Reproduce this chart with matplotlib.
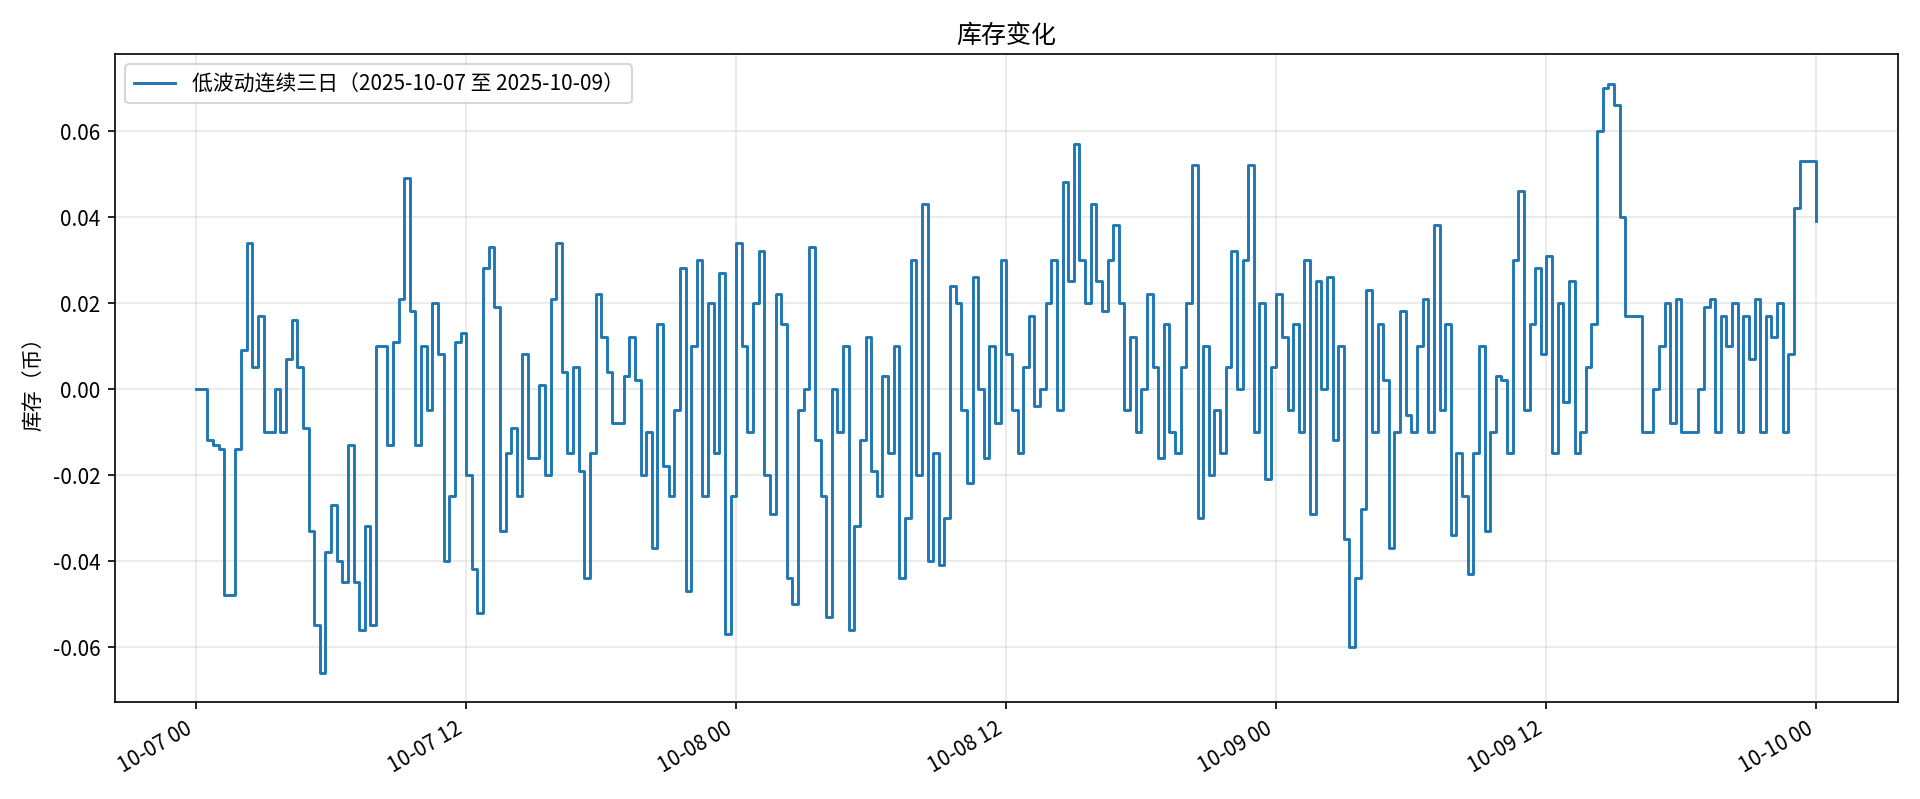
import numpy as np
import pandas as pd
import matplotlib
matplotlib.use("Agg")
import matplotlib.pyplot as plt
import matplotlib.dates as mdates

plt.rcParams['font.family'] = ['Noto Sans CJK SC', 'DejaVu Sans']
plt.rcParams['axes.unicode_minus'] = False

start = "2025-10-07 00:00"
freq_minutes = 15
inventory = [
 0,0,-0.012,-0.013, -0.014,-0.048,-0.048,-0.014, 0.009,0.034,0.005,0.017, -0.010,-0.010,0.000,-0.010,
 0.007,0.016,0.005,-0.009, -0.033,-0.055,-0.066,-0.038, -0.027,-0.040,-0.045,-0.013, -0.045,-0.056,-0.032,-0.055,
 0.010,0.010,-0.013,0.011, 0.021,0.049,0.018,-0.013, 0.010,-0.005,0.020,0.008, -0.040,-0.025,0.011,0.013,
 -0.020,-0.042,-0.052,0.028, 0.033,0.019,-0.033,-0.015, -0.009,-0.025,0.008,-0.016, -0.016,0.001,-0.020,0.021,
 0.034,0.004,-0.015,0.005, -0.019,-0.044,-0.015,0.022, 0.012,0.004,-0.008,-0.008, 0.003,0.012,0.002,-0.020,
 -0.010,-0.037,0.015,-0.018, -0.025,-0.005,0.028,-0.047, 0.010,0.030,-0.025,0.020, -0.015,0.027,-0.057,-0.025,
 0.034,0.010,-0.010,0.020, 0.032,-0.020,-0.029,0.022, 0.015,-0.044,-0.050,-0.005, 0.000,0.033,-0.012,-0.025,
 -0.053,0.000,-0.010,0.010, -0.056,-0.032,-0.012,0.012, -0.019,-0.025,0.003,-0.015, 0.010,-0.044,-0.030,0.030,
 -0.020,0.043,-0.040,-0.015, -0.041,-0.030,0.024,0.020, -0.005,-0.022,0.026,0.000, -0.016,0.010,-0.008,0.030,
 0.008,-0.005,-0.015,0.005, 0.017,-0.004,0.000,0.020, 0.030,-0.005,0.048,0.025, 0.057,0.030,0.020,0.043,
 0.025,0.018,0.030,0.038, 0.020,-0.005,0.012,-0.010, 0.000,0.022,0.005,-0.016, 0.015,-0.010,-0.015,0.005,
 0.020,0.052,-0.030,0.010, -0.020,-0.005,-0.015,0.005, 0.032,0.000,0.030,0.052, -0.010,0.020,-0.021,0.005,
 0.022,0.012,-0.005,0.015, -0.010,0.030,-0.029,0.025, 0.000,0.026,-0.012,0.010, -0.035,-0.060,-0.044,-0.028,
 0.023,-0.010,0.015,0.002, -0.037,-0.010,0.018,-0.006, -0.010,0.010,0.021,-0.010, 0.038,-0.005,0.015,-0.034,
 -0.015,-0.025,-0.043,-0.015, 0.010,-0.033,-0.010,0.003, 0.002,-0.015,0.030,0.046, -0.005,0.015,0.028,0.008,
 0.031,-0.015,0.020,-0.003, 0.025,-0.015,-0.010,0.005, 0.015,0.060,0.070,0.071, 0.066,0.040,0.017,0.017,
 0.017,-0.010,-0.010,0.000, 0.010,0.020,-0.008,0.021, -0.010,-0.010,-0.010,0.000, 0.019,0.021,-0.010,0.017,
 0.010,0.020,-0.010,0.017, 0.007,0.021,-0.010,0.017, 0.012,0.020,-0.010,0.008, 0.042,0.053,0.053,0.053,
 0.039,
]
times = pd.date_range(start, periods=len(inventory), freq=f"{freq_minutes}min")

fig, ax = plt.subplots(figsize=(12.8, 5.333), dpi=150)
ax.plot(times, inventory, drawstyle='steps-post', color='#1f77b4', lw=1.4,
        label='低波动连续三日（2025-10-07 至 2025-10-09）')
ax.set_title('库存变化')
ax.set_ylabel('库存（币）')
ax.grid(True, alpha=0.3)
ax.legend(loc='upper left')
ax.xaxis.set_major_locator(mdates.HourLocator(byhour=[0, 12]))
ax.xaxis.set_major_formatter(mdates.DateFormatter('%m-%d %H'))
fig.autofmt_xdate()
fig.tight_layout()
fig.savefig('out.png')
